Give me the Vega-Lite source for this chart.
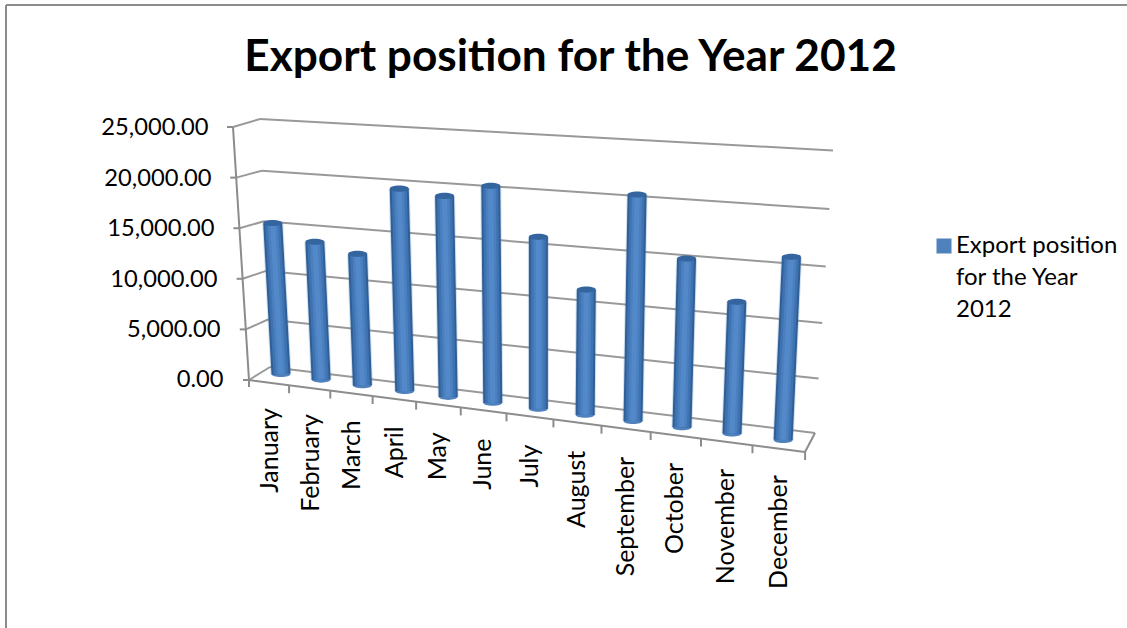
{
  "$schema": "https://vega.github.io/schema/vega-lite/v6.json",
  "width": 1127,
  "height": 628,
  "padding": 0,
  "autosize": {"type": "none"},
  "background": "white",
  "view": {"stroke": null},
  "config": {"font": "Lato"},
  "title": {"text": "Export position for the Year 2012", "font": "Lato", "fontSize": 44.2, "fontWeight": "bold", "color": "#000000", "anchor": "middle", "frame": "group", "baseline": "alphabetic", "offset": -72, "dx": 7, "dy": 43},
  "datasets": {
    "months": [
      {"month": "January", "order": 0, "exports": 15400, "series": "Export position for the Year 2012"},
      {"month": "February", "order": 1, "exports": 13850, "series": "Export position for the Year 2012"},
      {"month": "March", "order": 2, "exports": 13010, "series": "Export position for the Year 2012"},
      {"month": "April", "order": 3, "exports": 19400, "series": "Export position for the Year 2012"},
      {"month": "May", "order": 4, "exports": 18950, "series": "Export position for the Year 2012"},
      {"month": "June", "order": 5, "exports": 20080, "series": "Export position for the Year 2012"},
      {"month": "July", "order": 6, "exports": 15770, "series": "Export position for the Year 2012"},
      {"month": "August", "order": 7, "exports": 11450, "series": "Export position for the Year 2012"},
      {"month": "September", "order": 8, "exports": 19970, "series": "Export position for the Year 2012"},
      {"month": "October", "order": 9, "exports": 14780, "series": "Export position for the Year 2012"},
      {"month": "November", "order": 10, "exports": 11470, "series": "Export position for the Year 2012"},
      {"month": "December", "order": 11, "exports": 15530, "series": "Export position for the Year 2012"}
    ],
    "levels": [
      {"level": 0}, {"level": 5000}, {"level": 10000}, {"level": 15000}, {"level": 20000}, {"level": 25000}
    ],
    "frame": [
      {"x0": 6, "y0": 5, "x1": 6, "y1": 628},
      {"x0": 6, "y0": 5, "x1": 1127, "y1": 5}
    ]
  },
  "layer": [
    {
      "data": {"name": "frame"},
      "transform": [
        {"calculate": "(379-datum.y0)/0.01008", "as": "ya"},
        {"calculate": "(379-datum.y1)/0.01008", "as": "yb"}
      ],
      "mark": {"type": "rule", "color": "#8c8c8c", "strokeWidth": 2},
      "encoding": {
        "x": {"field": "x0", "type": "quantitative", "scale": {"domain": [0, 1127], "nice": false, "zero": false}, "axis": null},
        "y": {
          "field": "ya", "type": "quantitative",
          "scale": {"domain": [-24702.6, 37599], "nice": false, "zero": false},
          "axis": {
            "title": null, "values": [0, 5000, 10000, 15000, 20000, 25000], "format": ",.2f",
            "domain": false, "ticks": false, "grid": false, "offset": -223, "labelPadding": 0, "labelOffset": 1,
            "labelFont": "Lato", "labelFontSize": 23.7, "labelColor": "#000000",
            "encoding": {"labels": {"dx": {"value": {"signal": "-3*datum.value/5000"}}}}
          }
        },
        "x2": {"field": "x1"},
        "y2": {"field": "yb"}
      }
    },
    {
      "data": {"name": "levels"},
      "transform": [
        {"calculate": "datum.level/5000", "as": "t"},
        {"calculate": "270-2*datum.t", "as": "backLx"},
        {"calculate": "(379-(367-47*datum.t-0.52*datum.t*datum.t))/0.01008", "as": "backLy"},
        {"calculate": "815+3.6*datum.t", "as": "backRx"},
        {"calculate": "(379-(433-54*datum.t-0.5*datum.t*datum.t))/0.01008", "as": "backRy"},
        {"calculate": "249-3.2*datum.t", "as": "frontX"},
        {"calculate": "(379-(380-50.6*datum.t))/0.01008", "as": "frontY"},
        {"calculate": "datum.frontX-6", "as": "tickX"},
        {"calculate": "805", "as": "floorRx"},
        {"calculate": "(379-452)/0.01008", "as": "floorRy"},
        {"calculate": "(379-387)/0.01008", "as": "originTickY"}
      ],
      "layer": [
        {
          "mark": {"type": "rule", "color": "#999999", "strokeWidth": 2},
          "encoding": {
            "x": {"field": "backLx", "type": "quantitative", "axis": null},
            "y": {"field": "backLy", "type": "quantitative"},
            "x2": {"field": "backRx"},
            "y2": {"field": "backRy"}
          }
        },
        {
          "mark": {"type": "rule", "color": "#999999", "strokeWidth": 2},
          "encoding": {
            "x": {"field": "frontX", "type": "quantitative", "axis": null},
            "y": {"field": "frontY", "type": "quantitative"},
            "x2": {"field": "backLx"},
            "y2": {"field": "backLy"}
          }
        },
        {
          "mark": {"type": "rule", "color": "#8c8c8c", "strokeWidth": 2},
          "encoding": {
            "x": {"field": "tickX", "type": "quantitative", "axis": null},
            "y": {"field": "frontY", "type": "quantitative"},
            "x2": {"field": "frontX"},
            "y2": {"field": "frontY"}
          }
        },
        {
          "mark": {"type": "line", "color": "#8c8c8c", "strokeWidth": 2},
          "encoding": {
            "x": {"field": "frontX", "type": "quantitative", "axis": null},
            "y": {"field": "frontY", "type": "quantitative"},
            "order": {"field": "level"}
          }
        },
        {
          "transform": [{"filter": "datum.level === 0"}],
          "layer": [
            {
              "mark": {"type": "rule", "color": "#8c8c8c", "strokeWidth": 2},
              "encoding": {
                "x": {"field": "frontX", "type": "quantitative", "axis": null},
                "y": {"field": "frontY", "type": "quantitative"},
                "x2": {"field": "floorRx"},
                "y2": {"field": "floorRy"}
              }
            },
            {
              "mark": {"type": "rule", "color": "#8c8c8c", "strokeWidth": 2},
              "encoding": {
                "x": {"field": "backRx", "type": "quantitative", "axis": null},
                "y": {"field": "backRy", "type": "quantitative"},
                "x2": {"field": "floorRx"},
                "y2": {"field": "floorRy"}
              }
            },
            {
              "mark": {"type": "rule", "color": "#8c8c8c", "strokeWidth": 2},
              "encoding": {
                "x": {"field": "frontX", "type": "quantitative", "axis": null},
                "y": {"field": "frontY", "type": "quantitative"},
                "x2": {"field": "frontX"},
                "y2": {"field": "originTickY"}
              }
            }
          ]
        }
      ]
    },
    {
      "data": {"name": "months"},
      "transform": [
        {"calculate": "datum.order", "as": "i"},
        {"calculate": "281+39.6*datum.i+0.55*datum.i*datum.i", "as": "bx"},
        {"calculate": "377+5.55*datum.i+0.04*datum.i*datum.i", "as": "by"},
        {"calculate": "datum.exports*(0.0102+0.00018*datum.i)", "as": "h"},
        {"calculate": "datum.bx+datum.h*(datum.i-6)*0.0088", "as": "tx"},
        {"calculate": "(379-(datum.by-3))/0.01008", "as": "baseY"},
        {"calculate": "(379-(datum.by-datum.h+3))/0.01008", "as": "topY"},
        {"calculate": "249+39.5*(datum.i+1)+0.57*(datum.i+1)*(datum.i+1)", "as": "tickX"},
        {"calculate": "380+72*(datum.tickX-249)/556", "as": "tickPx"},
        {"calculate": "(379-datum.tickPx)/0.01008", "as": "tickTop"},
        {"calculate": "(379-datum.tickPx-8)/0.01008", "as": "tickBottom"},
        {"calculate": "278.3+39.6*datum.i+0.6*datum.i*datum.i", "as": "labelX"},
        {"calculate": "(379-(408+6.1*datum.i))/0.01008", "as": "labelY"}
      ],
      "layer": [
        {
          "mark": {"type": "rule", "color": "#8c8c8c", "strokeWidth": 2},
          "encoding": {
            "x": {"field": "tickX", "type": "quantitative", "axis": null},
            "y": {"field": "tickTop", "type": "quantitative"},
            "x2": {"field": "tickX"},
            "y2": {"field": "tickBottom"}
          }
        },
        {
          "mark": {"type": "rule", "color": "#4f81bd", "opacity": 0.25, "strokeWidth": 21},
          "encoding": {
            "x": {"field": "bx", "type": "quantitative", "axis": null},
            "y": {"field": "baseY", "type": "quantitative"},
            "x2": {"field": "tx"},
            "y2": {"field": "topY"}
          }
        },
        {
          "mark": {"type": "point", "filled": true, "opacity": 1, "shape": "M-1,0A1,0.32 0 1,1 1,0A1,0.32 0 1,1 -1,0Z", "size": 361},
          "encoding": {
            "x": {"field": "bx", "type": "quantitative", "axis": null},
            "y": {"field": "baseY", "type": "quantitative"},
            "color": {
              "field": "series", "type": "nominal",
              "scale": {"range": ["#4f81bd"]},
              "legend": {
                "orient": "none", "legendX": 932, "legendY": 234, "title": null,
                "symbolType": "square", "symbolSize": 225, "symbolStrokeWidth": 0, "labelOffset": 0,
                "labelFont": "Lato", "labelFontSize": 24, "labelColor": "#000000", "labelLimit": 0,
                "labelExpr": "['Export position', 'for the Year', '2012']",
                "encoding": {"labels": {"lineHeight": {"value": 32}}}
              }
            }
          }
        },
        {
          "mark": {"type": "rule", "color": "#2f5f97", "strokeWidth": 19},
          "encoding": {
            "x": {"field": "bx", "type": "quantitative", "axis": null},
            "y": {"field": "baseY", "type": "quantitative"},
            "x2": {"field": "tx"},
            "y2": {"field": "topY"}
          }
        },
        {
          "mark": {"type": "rule", "color": "#3f72b0", "strokeWidth": 15},
          "encoding": {
            "x": {"field": "bx", "type": "quantitative", "axis": null},
            "y": {"field": "baseY", "type": "quantitative"},
            "x2": {"field": "tx"},
            "y2": {"field": "topY"}
          }
        },
        {
          "mark": {"type": "rule", "color": "#4a80c0", "strokeWidth": 10},
          "encoding": {
            "x": {"field": "bx", "type": "quantitative", "axis": null},
            "y": {"field": "baseY", "type": "quantitative"},
            "x2": {"field": "tx"},
            "y2": {"field": "topY"}
          }
        },
        {
          "mark": {"type": "rule", "color": "#5389c9", "strokeWidth": 5},
          "encoding": {
            "x": {"field": "bx", "type": "quantitative", "axis": null},
            "y": {"field": "baseY", "type": "quantitative"},
            "x2": {"field": "tx"},
            "y2": {"field": "topY"}
          }
        },
        {
          "mark": {"type": "point", "filled": true, "opacity": 1, "color": "#34659f", "shape": "M-1,0A1,0.32 0 1,1 1,0A1,0.32 0 1,1 -1,0Z", "size": 361},
          "encoding": {
            "x": {"field": "tx", "type": "quantitative", "axis": null},
            "y": {"field": "topY", "type": "quantitative"}
          }
        },
        {
          "mark": {"type": "text", "angle": 270, "align": "right", "baseline": "alphabetic", "font": "Lato", "fontSize": 25, "color": "#000000"},
          "encoding": {
            "x": {"field": "labelX", "type": "quantitative", "axis": null},
            "y": {"field": "labelY", "type": "quantitative"},
            "text": {"field": "month", "type": "nominal"}
          }
        }
      ]
    }
  ]
}
